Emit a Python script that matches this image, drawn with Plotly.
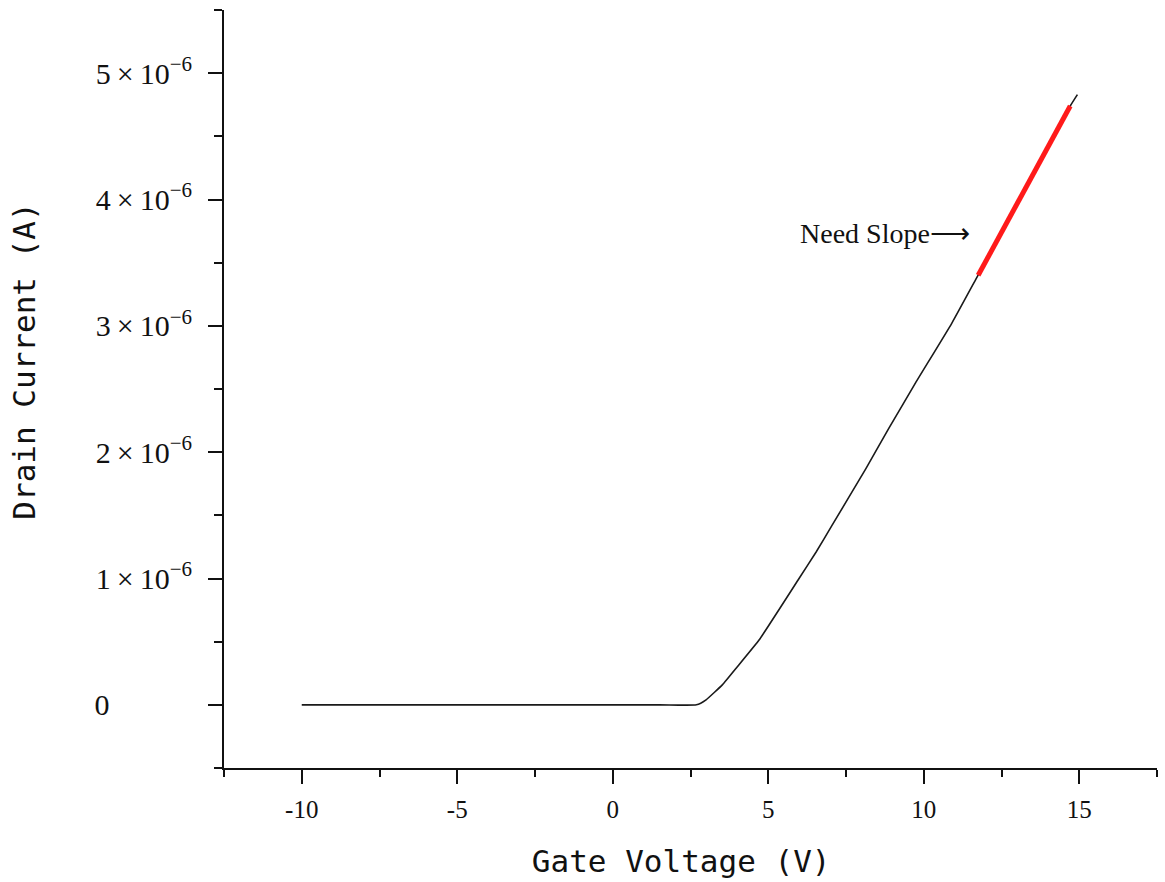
import plotly.graph_objects as go

# Gate voltage (V) and drain current (A)
gate_voltage = [-10.0, 1.5, 2.69, 3.0, 3.53, 4.0, 4.71, 5.99, 6.54, 7.05, 8.14, 8.88,
                9.74, 10.90, 11.70, 13.2, 14.71, 14.94]
drain_current = [0.0, 0.0, 0.0, 0.04e-6, 0.16e-6, 0.30e-6, 0.515e-6, 1.00e-6, 1.21e-6,
                 1.42e-6, 1.87e-6, 2.19e-6, 2.55e-6, 3.02e-6, 3.38e-6, 4.06e-6,
                 4.74e-6, 4.83e-6]

# Highlighted segment ("Need Slope")
slope_voltage = [11.75, 13.2, 14.71]
slope_current = [3.40e-6, 4.06e-6, 4.74e-6]

x_tick_vals = [-10, -5, 0, 5, 10, 15]
x_tick_text = ["-10", "-5", "0", "5", "10", "15"]

y_tick_vals = [0, 1e-6, 2e-6, 3e-6, 4e-6, 5e-6]
y_tick_text = ["0" + "\u00a0" * 11,
               "1\u2009×\u200910<sup>−6</sup>", "2\u2009×\u200910<sup>−6</sup>",
               "3\u2009×\u200910<sup>−6</sup>", "4\u2009×\u200910<sup>−6</sup>",
               "5\u2009×\u200910<sup>−6</sup>"]

hidden = "<span style='color:rgba(0,0,0,0)'>{}</span>"

fig = go.Figure()
fig.add_trace(go.Scatter(x=gate_voltage, y=drain_current, mode="lines",
                         line=dict(color="#1a1a1a", width=1.6, shape="spline", smoothing=0.4),
                         showlegend=False))
fig.add_trace(go.Scatter(x=slope_voltage, y=slope_current, mode="lines",
                         line=dict(color="#ff1a1a", width=5),
                         showlegend=False))

fig.add_annotation(x=11.55, y=3.73e-6, xref="x", yref="y", text="Need Slope⟶",
                   showarrow=False, xanchor="right", yanchor="middle",
                   font=dict(family="Liberation Serif", size=28, color="#111"))

fig.update_layout(
    width=1165, height=882,
    margin=dict(l=224, r=8, t=10, b=114),
    paper_bgcolor="white", plot_bgcolor="white",
    showlegend=False,
)
fig.update_xaxes(
    range=[-12.5, 17.5], tickmode="array", tickvals=x_tick_vals, ticktext=x_tick_text,
    showgrid=False, zeroline=False, showline=True, linecolor="#111", linewidth=2,
    ticks="outside", ticklen=14, tickwidth=2, tickcolor="#111",
    minor=dict(ticks="outside", ticklen=7, tickwidth=2, tickcolor="#111", dtick=2.5, tick0=0, showgrid=False),
    tickfont=dict(family="Liberation Serif", size=25, color="#111"),
    ticklabelstandoff=4,
    title=dict(text="Gate Voltage (V)" + hidden.format("x"), standoff=28,
               font=dict(family="DejaVu Sans Mono", size=31, color="#111")),
)
fig.update_yaxes(
    range=[-0.5e-6, 5.5e-6], tickmode="array", tickvals=y_tick_vals, ticktext=y_tick_text,
    showgrid=False, zeroline=False, showline=True, linecolor="#111", linewidth=2,
    ticks="outside", ticklen=14, tickwidth=2, tickcolor="#111",
    minor=dict(ticks="outside", ticklen=8, tickwidth=2, tickcolor="#111", dtick=0.5e-6, tick0=0, showgrid=False),
    tickfont=dict(family="Liberation Serif", size=30, color="#111"),
    ticklabelstandoff=10,
    title=dict(text=hidden.format("xxx") + "Drain Current (A)", standoff=50,
               font=dict(family="DejaVu Sans Mono", size=31, color="#111")),
)

fig.write_html("out.html")
